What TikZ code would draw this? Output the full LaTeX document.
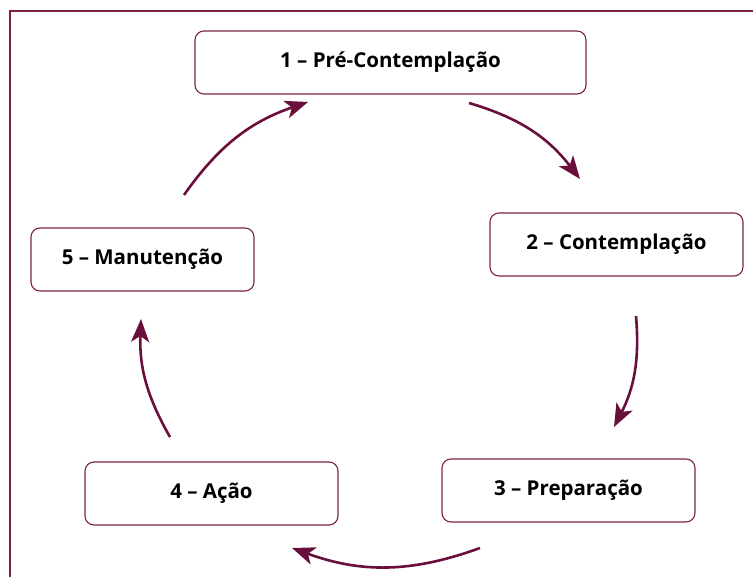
\documentclass[tikz,border=0pt]{standalone}
\usepackage{fontspec}
\setmainfont{Open Sans}
\usetikzlibrary{arrows.meta}
\definecolor{maroon}{HTML}{6A0E3C}
\definecolor{boxline}{HTML}{7A2248}
\begin{document}
\begin{tikzpicture}[x=1pt,y=-1pt,
  stage/.style={draw=boxline,line width=1.1pt,rounded corners=9pt,fill=white,
    minimum height=63pt,inner sep=0pt,font=\bfseries\fontsize{20.5}{22}\selectfont,text=black},
  cyc/.style={draw=maroon,line width=2.6pt,-{Stealth[length=23pt,width=18pt,inset=6pt]}}]
\useasboundingbox (0,0) rectangle (753,577);
\draw[boxline,line width=1.4pt] (10,577) -- (10,11) -- (753,11);
\node[stage,minimum width=391pt] (s1) at (390.5,62.5) {1 – Pré-Contemplação};
\node[stage,minimum width=253pt] (s2) at (616.5,244.5) {2 – Contemplação};
\node[stage,minimum width=253pt] (s3) at (568.5,490.5) {3 – Preparação};
\node[stage,minimum width=253pt] (s4) at (211.5,493.5) {4 – Ação};
\node[stage,minimum width=223pt] (s5) at (142.5,259.5) {5 – Manutenção};
\coordinate (a1s) at (469,103); \coordinate (a1e) at (580,179);
\coordinate (a2s) at (636,316); \coordinate (a2e) at (614,427);
\coordinate (a3s) at (480,548); \coordinate (a3e) at (292,548);
\coordinate (a4s) at (170,437); \coordinate (a4e) at (141,319);
\coordinate (a5s) at (184,195); \coordinate (a5e) at (308,102);
\draw[cyc] (a1s) to[bend left=18] (a1e);
\draw[cyc] (a2s) to[bend left=16] (a2e);
\draw[cyc] (a3s) to[bend left=20] (a3e);
\draw[cyc] (a4s) to[bend left=16] (a4e);
\draw[cyc] (a5s) to[bend left=18] (a5e);
\end{tikzpicture}
\end{document}
